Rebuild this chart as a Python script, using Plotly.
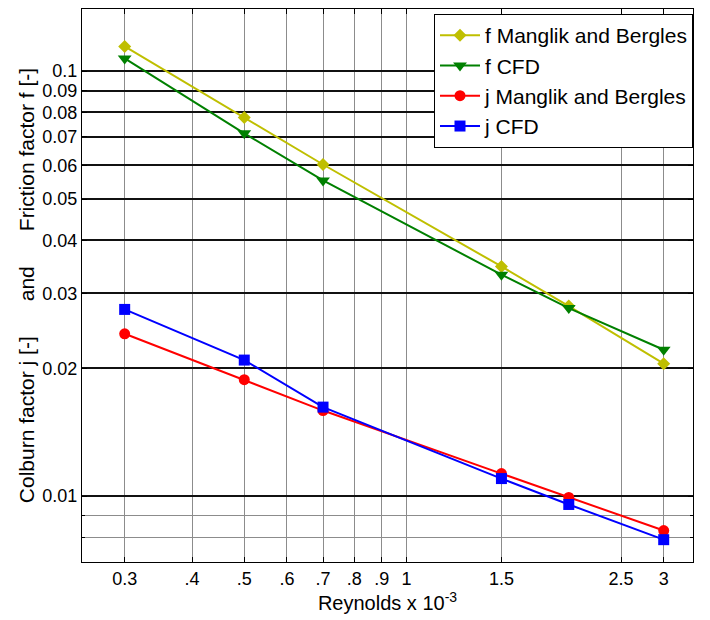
import math
import plotly.graph_objects as go

reynolds = [0.3, 0.5, 0.7, 1.5, 2.0, 3.0]
f_manglik = [0.1143, 0.0778, 0.0603, 0.0347, 0.0280, 0.0205]
f_cfd = [0.1071, 0.0714, 0.0553, 0.0332, 0.0277, 0.0221]
j_manglik = [0.0241, 0.0188, 0.0159, 0.0113, 0.00993, 0.0083]
j_cfd = [0.0275, 0.0209, 0.0162, 0.0110, 0.00956, 0.0079]

x_tickvals = [0.3, 0.4, 0.5, 0.6, 0.7, 0.8, 0.9, 1.0, 1.5, 2.5, 3.0]
x_ticktext = ["0.3", ".4", ".5", ".6", ".7", ".8", ".9", "1", "1.5", "2.5", "3"]
y_tickvals = [0.01, 0.02, 0.03, 0.04, 0.05, 0.06, 0.07, 0.08, 0.09, 0.1]
y_ticktext = ["0.01", "0.02", "0.03", "0.04", "0.05", "0.06", "0.07", "0.08", "0.09", "0.1"]
y_minorvals = [0.008, 0.009]

FONT = "Arial, Liberation Sans, sans-serif"

series = [
    ("f Manglik and Bergles", f_manglik, "#bfbf00", "diamond", 10),
    ("f CFD", f_cfd, "#008000", "triangle-down", 12),
    ("j Manglik and Bergles", j_manglik, "#ff0000", "circle", 11),
    ("j CFD", j_cfd, "#0000ff", "square", 11),
]

fig = go.Figure()
for name, vals, color, sym, size in series:
    fig.add_trace(go.Scatter(
        x=reynolds, y=vals, name=name, mode="lines+markers",
        line=dict(color=color, width=2),
        marker=dict(symbol=sym, size=size, color=color, line=dict(width=0)),
    ))

sp = "\u00a0" * 6
fig.update_layout(
    width=710, height=620,
    margin=dict(l=82, r=17, t=9, b=58),
    paper_bgcolor="white", plot_bgcolor="white",
    font=dict(family=FONT, size=18, color="black"),
    showlegend=True,
    legend=dict(
        x=1, y=0.991, xanchor="right", yanchor="top",
        bgcolor="white", bordercolor="black", borderwidth=1,
        font=dict(size=21, family=FONT), tracegroupgap=0,
        itemwidth=40,
    ),
    xaxis=dict(
        type="log",
        range=[math.log10(0.25), math.log10(3.4)],
        tickmode="array", tickvals=x_tickvals, ticktext=x_ticktext,
        ticks="inside", ticklen=5, tickcolor="black",
        showline=True, linecolor="black", linewidth=1, mirror="ticks",
        showgrid=True, gridcolor="#8c8c8c", gridwidth=1,
        zeroline=False,
        tickfont=dict(size=18),
        title=dict(text="Reynolds x 10<sup>-3</sup>", font=dict(size=20), standoff=8),
    ),
    yaxis=dict(
        type="log",
        range=[math.log10(0.007), math.log10(0.14)],
        tickmode="array", tickvals=y_tickvals, ticktext=y_ticktext,
        ticks="inside", ticklen=5, tickcolor="black",
        showline=True, linecolor="black", linewidth=1, mirror="ticks",
        showgrid=True, gridcolor="#111111", gridwidth=1.8,
        zeroline=False,
        tickfont=dict(size=18),
        minor=dict(tickmode="array", tickvals=y_minorvals, showgrid=True,
                   gridcolor="#8c8c8c", gridwidth=1.2, ticks="inside", ticklen=3,
                   tickcolor="black"),
        title=dict(text="Colburn factor j [-]" + sp + "and" + sp + "Friction factor f [-]",
                   font=dict(size=21), standoff=2),
    ),
)

fig.write_html("out.html")
